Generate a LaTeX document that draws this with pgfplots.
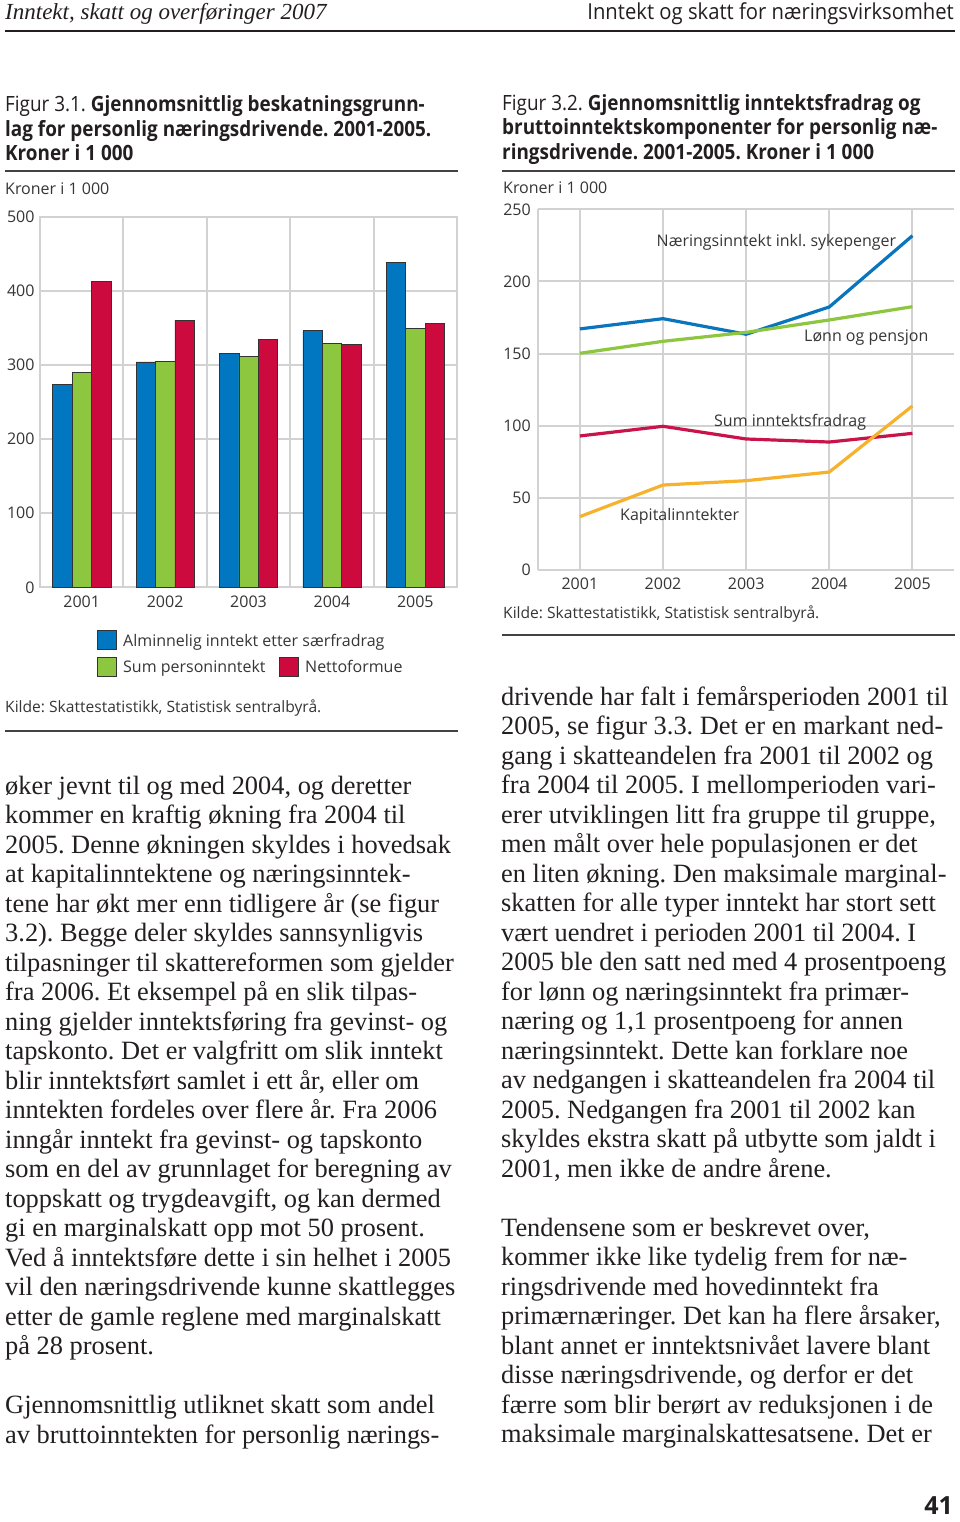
\documentclass[border=0pt]{standalone}
\usepackage{pgfplots}
\pgfplotsset{compat=1.18}
\usepackage{fontspec}
\setmainfont{Liberation Serif}
\newfontfamily\sans{Open Sans}
\newfontfamily\cond{Open Sans}[FakeStretch=0.9]
\newfontfamily\hcond{Open Sans}[FakeStretch=0.92]
\definecolor{barblue}{HTML}{0077C0}
\definecolor{bargreen}{HTML}{8DC63F}
\definecolor{barred}{HTML}{CC0A3E}
\definecolor{lblue}{HTML}{0A74BC}
\definecolor{lgreen}{HTML}{8DC63F}
\definecolor{lred}{HTML}{C8144B}
\definecolor{lyellow}{HTML}{F7B22D}
\definecolor{gridgrey}{HTML}{D2D2D2}
\definecolor{labelgrey}{HTML}{363636}
\definecolor{bodyblack}{HTML}{231F20}
\frenchspacing
\newcommand\bodyfont{\frenchspacing\fontsize{26.4}{29.5}\selectfont\color{bodyblack}}
\newcommand\chartfont{\frenchspacing\sans\fontsize{16}{19}\selectfont\color{labelgrey}}
\newcommand\kildefont{\frenchspacing\sans\fontsize{15.6}{18}\selectfont\color{labelgrey}}
\newcommand\titlefont{\frenchspacing\cond\fontsize{21}{24}\selectfont\color{bodyblack}}
\newcommand\BL[2]{\node[anchor=base west,inner sep=0pt,font=\bodyfont] at (5pt,-#1pt) {#2};}
\newcommand\BR[2]{\node[anchor=base west,inner sep=0pt,font=\bodyfont] at (501pt,-#1pt) {#2};}
\begin{document}
\begin{tikzpicture}
\fill[white] (0pt,0pt) rectangle (960pt,-1522pt);
\path (0pt,0pt) rectangle (960pt,-1522pt);
% header
\node[anchor=base west,inner sep=0pt,font=\frenchspacing\fontsize{23}{26}\selectfont\itshape\color{bodyblack}] at (5pt,-20pt) {Inntekt, skatt og overføringer 2007};
\node[anchor=base east,inner sep=0pt,font=\hcond\fontsize{22}{26}\selectfont\color{bodyblack}] at (954pt,-20pt) {Inntekt og skatt for næringsvirksomhet};
\draw[bodyblack,line width=2.6pt] (5pt,-31pt) -- (955pt,-31pt);
% titles
\node[anchor=base west,inner sep=0pt,font=\titlefont] at (5pt,-112pt) {Figur 3.1. \textbf{Gjennomsnittlig beskatningsgrunn-}};
\node[anchor=base west,inner sep=0pt,font=\titlefont] at (5pt,-136.5pt) {\textbf{lag for personlig næringsdrivende. 2001-2005.}};
\node[anchor=base west,inner sep=0pt,font=\titlefont] at (5pt,-161pt) {\textbf{Kroner i 1 000}};
\node[anchor=base west,inner sep=0pt,font=\titlefont] at (502pt,-110.5pt) {Figur 3.2. \textbf{Gjennomsnittlig inntektsfradrag og}};
\node[anchor=base west,inner sep=0pt,font=\titlefont] at (502pt,-135pt) {\textbf{bruttoinntektskomponenter for personlig næ-}};
\node[anchor=base west,inner sep=0pt,font=\titlefont] at (502pt,-159.5pt) {\textbf{ringsdrivende. 2001-2005. Kroner i 1 000}};
\draw[bodyblack!85,line width=1.5pt] (5pt,-171pt) -- (458pt,-171pt);
\draw[bodyblack!85,line width=1.5pt] (502pt,-171pt) -- (955pt,-171pt);
\node[anchor=base west,inner sep=0pt,font=\chartfont] at (5pt,-194.5pt) {Kroner i 1 000};
\node[anchor=base west,inner sep=0pt,font=\chartfont] at (503pt,-193.5pt) {Kroner i 1 000};
% bar chart
\begin{axis}[
  at={(40pt,-587.3pt)}, anchor=south west,
  scale only axis, width=417pt, height=370.6pt,
  xmin=2000.5, xmax=2005.5, ymin=0, ymax=500,
  ybar=0pt, bar width=19.4pt,
  xtick={2001,2002,2003,2004,2005},
  minor xtick={2000.5,2001.5,2002.5,2003.5,2004.5,2005.5},
  ytick={0,100,200,300,400,500},
  ymajorgrids, xminorgrids,
  major tick length=0pt, minor tick length=0pt,
  major grid style={draw=gridgrey,line width=2pt},
  minor grid style={draw=gridgrey,line width=2pt},
  axis line style={draw=gridgrey,line width=2pt},
  /pgf/number format/assume math mode=true,
  /pgf/number format/1000 sep={},
  tick label style={font=\chartfont},
  xticklabel style={yshift=-5pt},
  yticklabel style={xshift=-2pt},
]
\addplot[fill=barblue,draw=black!80,line width=0.6pt] coordinates {(2001,273.8) (2002,304) (2003,315.6) (2004,346.2) (2005,438.4)};
\addplot[fill=bargreen,draw=black!80,line width=0.6pt] coordinates {(2001,289.6) (2002,304.9) (2003,312) (2004,329.1) (2005,348.9)};
\addplot[fill=barred,draw=black!80,line width=0.6pt] coordinates {(2001,412.8) (2002,360.6) (2003,335) (2004,328.2) (2005,356.1)};
\end{axis}
% legend
\filldraw[fill=barblue,draw=black!80,line width=0.6pt] (97pt,-630pt) rectangle (116pt,-649pt);
\filldraw[fill=bargreen,draw=black!80,line width=0.6pt] (97pt,-657pt) rectangle (116pt,-676pt);
\filldraw[fill=barred,draw=black!80,line width=0.6pt] (279pt,-657pt) rectangle (298pt,-676pt);
\node[anchor=base west,inner sep=0pt,font=\chartfont] at (123pt,-646pt) {Alminnelig inntekt etter særfradrag};
\node[anchor=base west,inner sep=0pt,font=\chartfont] at (123pt,-672pt) {Sum personinntekt};
\node[anchor=base west,inner sep=0pt,font=\chartfont] at (305pt,-672pt) {Nettoformue};
\node[anchor=base west,inner sep=0pt,font=\kildefont] at (5pt,-712pt) {Kilde: Skattestatistikk, Statistisk sentralbyrå.};
\draw[bodyblack!85,line width=1.5pt] (5pt,-731pt) -- (458pt,-731pt);
% line chart
\begin{axis}[
  at={(538.3pt,-570pt)}, anchor=south west,
  scale only axis, width=415.7pt, height=360.7pt,
  xmin=2000.5, xmax=2005.5, ymin=0, ymax=250,
  xtick={2001,2002,2003,2004,2005},
  ytick={0,50,100,150,200,250},
  xmajorgrids, ymajorgrids,
  axis x line*=bottom, axis y line*=left,
  major tick length=0pt,
  major grid style={draw=gridgrey,line width=2pt},
  axis line style={-,draw=gridgrey,line width=2pt},
  /pgf/number format/assume math mode=true,
  /pgf/number format/1000 sep={},
  tick label style={font=\chartfont},
  xticklabel style={yshift=-4pt},
  yticklabel style={xshift=-4pt},
]
\addplot[lred,line width=3.2pt] coordinates {(2001,92.9) (2002,99.6) (2003,90.8) (2004,88.7) (2005,94.7)};
\addplot[lblue,line width=3.2pt] coordinates {(2001,167.1) (2002,174.2) (2003,163.4) (2004,182.3) (2005,231.7)};
\addplot[lgreen,line width=3.2pt] coordinates {(2001,150.2) (2002,158.5) (2003,164.7) (2004,173.3) (2005,182.5)};
\addplot[lyellow,line width=3.2pt] coordinates {(2001,37) (2002,58.9) (2003,61.9) (2004,67.9) (2005,113.7)};
\end{axis}
\node[anchor=base west,inner sep=0pt,font=\chartfont] at (656.5pt,-247pt) {Næringsinntekt inkl. sykepenger};
\node[anchor=base west,inner sep=0pt,font=\chartfont] at (804pt,-341pt) {Lønn og pensjon};
\node[anchor=base west,inner sep=0pt,font=\chartfont] at (714pt,-426pt) {Sum inntektsfradrag};
\node[anchor=base west,inner sep=0pt,font=\chartfont] at (620pt,-520pt) {Kapitalinntekter};
\node[anchor=base west,inner sep=0pt,font=\kildefont] at (503pt,-618pt) {Kilde: Skattestatistikk, Statistisk sentralbyrå.};
\draw[bodyblack!85,line width=1.5pt] (502pt,-635pt) -- (955pt,-635pt);
% body text left
\BL{794}{øker jevnt til og med 2004, og deretter}
\BL{823.5}{kommer en kraftig økning fra 2004 til}
\BL{853}{2005. Denne økningen skyldes i hovedsak}
\BL{882.5}{at kapitalinntektene og næringsinntek-}
\BL{912}{tene har økt mer enn tidligere år (se figur}
\BL{941.5}{3.2). Begge deler skyldes sannsynligvis}
\BL{971}{tilpasninger til skattereformen som gjelder}
\BL{1000.5}{fra 2006. Et eksempel på en slik tilpas-}
\BL{1030}{ning gjelder inntektsføring fra gevinst- og}
\BL{1059.5}{tapskonto. Det er valgfritt om slik inntekt}
\BL{1089}{blir inntektsført samlet i ett år, eller om}
\BL{1118.5}{inntekten fordeles over flere år. Fra 2006}
\BL{1148}{inngår inntekt fra gevinst- og tapskonto}
\BL{1177.5}{som en del av grunnlaget for beregning av}
\BL{1207}{toppskatt og trygdeavgift, og kan dermed}
\BL{1236.5}{gi en marginalskatt opp mot 50 prosent.}
\BL{1266}{Ved å inntektsføre dette i sin helhet i 2005}
\BL{1295.5}{vil den næringsdrivende kunne skattlegges}
\BL{1325}{etter de gamle reglene med marginalskatt}
\BL{1354.5}{på 28 prosent.}
\BL{1413.5}{Gjennomsnittlig utliknet skatt som andel}
\BL{1443}{av bruttoinntekten for personlig nærings-}
% body text right
\BR{705}{drivende har falt i femårsperioden 2001 til}
\BR{734.5}{2005, se figur 3.3. Det er en markant ned-}
\BR{764}{gang i skatteandelen fra 2001 til 2002 og}
\BR{793.5}{fra 2004 til 2005. I mellomperioden vari-}
\BR{823}{erer utviklingen litt fra gruppe til gruppe,}
\BR{852.5}{men målt over hele populasjonen er det}
\BR{882}{en liten økning. Den maksimale marginal-}
\BR{911.5}{skatten for alle typer inntekt har stort sett}
\BR{941}{vært uendret i perioden 2001 til 2004. I}
\BR{970.5}{2005 ble den satt ned med 4 prosentpoeng}
\BR{1000}{for lønn og næringsinntekt fra primær-}
\BR{1029.5}{næring og 1,1 prosentpoeng for annen}
\BR{1059}{næringsinntekt. Dette kan forklare noe}
\BR{1088.5}{av nedgangen i skatteandelen fra 2004 til}
\BR{1118}{2005. Nedgangen fra 2001 til 2002 kan}
\BR{1147.5}{skyldes ekstra skatt på utbytte som jaldt i}
\BR{1177}{2001, men ikke de andre årene.}
\BR{1236}{Tendensene som er beskrevet over,}
\BR{1265.5}{kommer ikke like tydelig frem for næ-}
\BR{1295}{ringsdrivende med hovedinntekt fra}
\BR{1324.5}{primærnæringer. Det kan ha flere årsaker,}
\BR{1354}{blant annet er inntektsnivået lavere blant}
\BR{1383.5}{disse næringsdrivende, og derfor er det}
\BR{1413}{færre som blir berørt av reduksjonen i de}
\BR{1442.5}{maksimale marginalskattesatsene. Det er}
% page number
\node[anchor=base east,inner sep=0pt,font=\sans\bfseries\fontsize{25}{30}\selectfont\color{bodyblack}] at (953pt,-1514pt) {41};
\end{tikzpicture}
\end{document}
